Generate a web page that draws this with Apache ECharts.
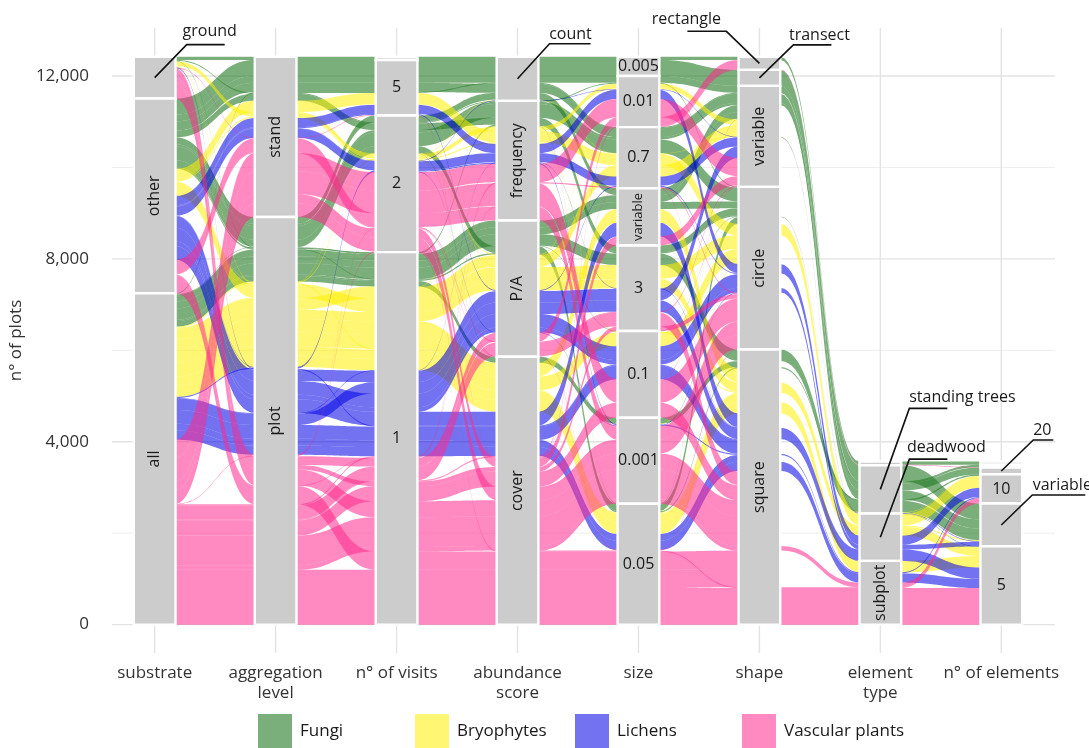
<!DOCTYPE html>
<html><head><meta charset="utf-8">
<script src="https://cdn.jsdelivr.net/npm/echarts@6/dist/echarts.min.js"></script>
<style>html,body{margin:0;padding:0;background:#fff}#c{width:1089px;height:748px}</style>
</head><body><div id="c"></div>
<script>
// ---------- data ----------
const axisNames = ['substrate','aggregation\nlevel','n° of visits','abundance\nscore','size','shape','element\ntype','n° of elements'];
const strata = [
  ['ground','other','all'],
  ['stand','plot'],
  ['10','5','2','1'],
  ['count','frequency','P/A','cover'],
  ['0.005','0.01','0.7','variable','3','0.1','0.001','0.05'],
  ['rectangle','transect','variable','circle','square'],
  ['other','standing trees','deadwood','subplot'],
  ['50','30','20','10','variable','5']
];
const taxa = ['Fungi','Bryophytes','Lichens','Vascular plants'];
const yTicks = [0, 4000, 8000, 12000];
const yMinorTicks = [2000, 6000, 10000];

// alluvia: substrate, aggregation, visits, abundance, size, shape, element type, n° of elements, n° of plots
const fungi = [
  ['other','stand','5','count','0.005','transect','standing trees','variable',350],
  ['other','stand','5','count','0.7','variable','standing trees','variable',200],
  ['all','plot','1','P/A','variable','circle',null,null,150],
  ['other','stand','5','count','0.01','variable','standing trees','20',150],
  ['other','plot','2','frequency','0.7','variable','standing trees','30',50],
  ['ground','stand','10','count','0.005','rectangle','other','50',70],
  ['other','plot','2','frequency','0.7','circle',null,null,300],
  ['all','plot','1','P/A','3','square','standing trees','variable',250],
  ['other','plot','2','count','variable','variable',null,null,150],
  ['all','plot','1','cover','0.001','square',null,null,120],
  ['other','plot','2','P/A','0.05','circle',null,null,150],
  ['other','stand','2','frequency','3','circle',null,null,150],
  ['all','plot','1','P/A','variable','variable',null,null,150],
  ['ground','stand','2','frequency','0.01','circle',null,null,20],
  ['all','plot','1','P/A','0.05','square','standing trees','10',30],
  ['other','plot','1','frequency','3','circle',null,null,25],
  ['all','stand','5','count','0.7','variable',null,null,20],
  ['other','plot','1','P/A','0.1','circle','deadwood','5',12],
  ['all','plot','2','cover','0.001','square',null,null,12],
  ['ground','plot','1','frequency','0.05','variable',null,null,12]
];
const bryophytes = [
  ['other','stand','5','frequency','0.7','circle','deadwood','10',250],
  ['all','plot','1','P/A','3','square','deadwood','5',200],
  ['all','plot','1','cover','0.05','square','subplot','5',250],
  ['other','plot','1','P/A','3','circle',null,null,300],
  ['all','plot','1','P/A','0.7','variable',null,null,250],
  ['all','plot','1','cover','variable','square',null,null,300],
  ['all','plot','1','cover','0.1','circle',null,null,300],
  ['ground','stand','2','frequency','0.01','variable',null,null,100],
  ['all','plot','1','cover','0.05','square',null,null,200],
  ['other','stand','2','P/A','0.01','variable',null,null,20],
  ['all','plot','2','frequency','0.1','square','deadwood','variable',25],
  ['ground','plot','1','cover','0.05','circle',null,null,20],
  ['other','stand','2','count','0.7','variable','standing trees','10',12],
  ['all','plot','1','frequency','0.001','circle',null,null,12],
  ['other','plot','5','P/A','3','square',null,null,12]
];
const lichens = [
  ['other','stand','5','frequency','0.01','circle','deadwood','10',200],
  ['other','plot','1','P/A','0.1','circle','deadwood','variable',100],
  ['all','plot','1','P/A','3','square','deadwood','5',250],
  ['all','plot','1','cover','0.05','square','subplot','5',200],
  ['other','stand','2','frequency','0.7','variable',null,null,200],
  ['other','plot','1','P/A','0.1','circle',null,null,300],
  ['other','plot','1','cover','variable','square',null,null,300],
  ['other','plot','1','P/A','3','variable',null,null,250],
  ['all','plot','1','cover','0.1','square',null,null,300],
  ['all','plot','1','cover','0.05','square',null,null,150],
  ['other','stand','5','P/A','0.7','circle',null,null,20],
  ['all','plot','2','frequency','0.001','square','subplot','10',25],
  ['ground','plot','1','cover','0.1','square',null,null,20],
  ['other','stand','2','count','0.01','variable','standing trees','variable',12],
  ['all','plot','1','frequency','3','square',null,null,12],
  ['other','plot','2','P/A','0.001','circle',null,null,12]
];
const vascular = [
  ['all','plot','1','cover','0.05','square','subplot','5',800],
  ['all','plot','1','cover','0.001','square','subplot','10',100],
  ['all','plot','1','cover','0.001','square',null,null,650],
  ['all','stand','2','frequency','0.01','variable',null,null,400],
  ['all','stand','2','frequency','0.1','circle',null,null,500],
  ['all','stand','2','cover','0.001','circle',null,null,300],
  ['all','plot','1','cover','0.1','square',null,null,330],
  ['all','plot','1','P/A','3','square',null,null,300],
  ['other','stand','2','frequency','0.001','circle',null,null,300],
  ['other','plot','1','cover','0.05','square',null,null,400],
  ['ground','plot','1','cover','0.001','square',null,null,350],
  ['ground','plot','1','cover','3','circle',null,null,100],
  ['all','plot','1','cover','0.05','square',null,null,400],
  ['all','stand','2','cover','variable','variable',null,null,200],
  ['ground','plot','1','P/A','0.01','rectangle',null,null,190],
  ['all','plot','1','frequency','0.7','circle',null,null,25],
  ['other','stand','2','P/A','3','variable',null,null,20],
  ['ground','plot','2','cover','0.05','square','subplot','10',20],
  ['all','plot','1','cover','0.01','rectangle',null,null,15],
  ['other','plot','1','frequency','0.1','variable',null,null,12],
  ['all','plot','2','P/A','0.05','circle',null,null,12],
  ['ground','stand','5','cover','0.7','square',null,null,12],
  ['all','plot','1','cover','0.01','rectangle','other','30',12]
];

// ---------- styling config ----------
const taxonColors = ['rgba(34,120,34,0.6)','rgba(255,240,0,0.55)','rgba(0,0,230,0.55)','rgba(255,40,140,0.55)'];
const SW = 0.345; // stratum width (x units)
const stratumLabelMode = [
  {other:'v', all:'v'},
  {stand:'v', plot:'v'},
  {'5':'h','2':'h','1':'h'},
  {frequency:'v','P/A':'v',cover:'v'},
  {'0.005':'h','0.01':'h','0.7':'h',variable:'vs','3':'h','0.1':'h','0.001':'h','0.05':'h'},
  {variable:'v',circle:'v',square:'v'},
  {subplot:'v'},
  {'10':'h','5':'h'}
];
// callouts: axis, stratum, elbow offset, end offset, text offset (pixels)
const callouts = [
  [0,'ground',[32,-33],[70,-33],[55,-46]],
  [3,'count',[32,-35],[73,-35],[53,-44]],
  [5,'rectangle',[-33,-32],[-72,-32],[-73,-44]],
  [5,'transect',[34,-33],[72,-33],[60,-42]],
  [6,'standing trees',[29,-81],[67,-81],[82,-92]],
  [6,'deadwood',[29,-78],[67,-78],[66,-90]],
  [7,'20',[32,-31],[52,-31],[41,-41]],
  [7,'variable',[31,-30],[84,-30],[61,-40]]
];
const FONT = "'Open Sans', 'DejaVu Sans', sans-serif";

// ---------- layout (lodes) ----------
const alluvia = [];
[fungi, bryophytes, lichens, vascular].forEach((arr, t) => arr.forEach(r => {
  alluvia.push({t, w: r[8], path: r.slice(0, 8).map((s, i) => {
    if (s == null) return null;
    const k = strata[i].indexOf(s);
    if (k < 0) console.error('bad stratum', i, s);
    return k;
  })});
}));
function orderKeys(i) {
  const keys = [];
  for (let d = 1; d < 8; d++) {
    if (i < 4) { if (i + d < 8) keys.push(i + d); if (i - d >= 0) keys.push(i - d); }
    else { if (i - d >= 0) keys.push(i - d); if (i + d < 8) keys.push(i + d); }
  }
  return keys;
}
const pos = alluvia.map(() => Array(8).fill(null));
const ranges = strata.map(s => s.map(() => [Infinity, -Infinity]));
for (let i = 0; i < 8; i++) {
  const members = alluvia.map((a, k) => k).filter(k => alluvia[k].path[i] != null);
  const keys = orderKeys(i);
  members.sort((a, b) => {
    const A = alluvia[a], B = alluvia[b];
    if (A.path[i] !== B.path[i]) return A.path[i] - B.path[i];
    if (A.t !== B.t) return A.t - B.t;
    for (const k of keys) {
      const va = A.path[k] == null ? -1 : A.path[k], vb = B.path[k] == null ? -1 : B.path[k];
      if (va !== vb) return va - vb;
    }
    return a - b;
  });
  let top = members.reduce((s, k) => s + alluvia[k].w, 0);
  members.forEach(k => {
    const w = alluvia[k].w, s = alluvia[k].path[i];
    pos[k][i] = [top - w, top];
    ranges[i][s][0] = Math.min(ranges[i][s][0], top - w);
    ranges[i][s][1] = Math.max(ranges[i][s][1], top);
    top -= w;
  });
}

// flows per taxon
const flowData = taxa.map(() => []);
alluvia.forEach((a, k) => {
  for (let i = 0; i < 7; i++) {
    if (pos[k][i] && pos[k][i + 1]) {
      flowData[a.t].push([i + 1 + SW / 2, pos[k][i][0], pos[k][i][1], i + 2 - SW / 2, pos[k][i + 1][0], pos[k][i + 1][1]]);
    }
  }
});
// strata data
const stratumData = [], stratumInfo = [];
strata.forEach((list, i) => list.forEach((name, s) => {
  const r = ranges[i][s];
  if (r[0] === Infinity) return;
  stratumData.push([i + 1, r[0], r[1]]);
  stratumInfo.push({name, mode: stratumLabelMode[i][name] || null});
}));
const calloutData = [], calloutInfo = [];
callouts.forEach(c => {
  const s = strata[c[0]].indexOf(c[1]);
  const r = ranges[c[0]][s];
  calloutData.push([c[0] + 1, (r[0] + r[1]) / 2]);
  calloutInfo.push(c);
});
// grid lines: [kind, value]  kind 0 = major horizontal, 1 = minor horizontal, 2 = vertical
const gridData = [
  ...yTicks.map(v => [0, v]),
  ...yMinorTicks.map(v => [1, v]),
  ...axisNames.map((n, i) => [2, i + 1])
];

// ---------- rendering ----------
const X_MIN = 0.6463, X_MAX = 8.444, Y_MIN = -620, Y_MAX = 13050;
function bez(P, Q, s) {
  const k = 0.5, dx = Q[0] - P[0], u = 1 - s;
  const x = u*u*u*P[0] + 3*u*u*s*(P[0] + k*dx) + 3*u*s*s*(Q[0] - k*dx) + s*s*s*Q[0];
  const y = u*u*u*P[1] + 3*u*u*s*P[1] + 3*u*s*s*Q[1] + s*s*s*Q[1];
  return [x, y];
}
function flowRender(color) {
  return function (params, api) {
    const x0 = api.value(0), b0 = api.value(1), t0 = api.value(2), x1 = api.value(3), b1 = api.value(4), t1 = api.value(5);
    const A = api.coord([x0, t0]), B = api.coord([x1, t1]), C = api.coord([x1, b1]), D = api.coord([x0, b0]);
    const pts = [], N = 28;
    for (let j = 0; j <= N; j++) pts.push(bez(A, B, j / N));
    for (let j = 0; j <= N; j++) pts.push(bez(C, D, j / N));
    return {type: 'polygon', shape: {points: pts}, style: {fill: color, stroke: null}};
  };
}
function gridRender(params, api) {
  const kind = api.value(0), v = api.value(1);
  let a, b;
  if (kind === 2) { a = api.coord([v, Y_MIN]); b = api.coord([v, Y_MAX]); }
  else { a = api.coord([X_MIN, v]); b = api.coord([X_MAX, v]); }
  return {type: 'line', shape: {x1: a[0], y1: a[1], x2: b[0], y2: b[1]},
    style: {stroke: kind === 1 ? '#eeeeee' : '#e3e3e3', lineWidth: kind === 1 ? 1 : 1.4}};
}
function textStyle(text, size) {
  return {text, fontSize: size, fontFamily: FONT, fill: '#1a1a1a', align: 'center', verticalAlign: 'middle'};
}
function stratumRender(params, api) {
  const x = api.value(0), y0 = api.value(1), y1 = api.value(2);
  const p0 = api.coord([x - SW / 2, y1]), p1 = api.coord([x + SW / 2, y0]);
  const info = stratumInfo[params.dataIndex];
  const children = [{type: 'rect', shape: {x: p0[0], y: p0[1], width: p1[0] - p0[0], height: p1[1] - p0[1]},
    style: {fill: '#cccccc', stroke: '#ffffff', lineWidth: 2.4}}];
  if (info.mode) {
    const cx = (p0[0] + p1[0]) / 2, cy = (p0[1] + p1[1]) / 2;
    children.push({type: 'text', x: cx, y: cy, rotation: info.mode === 'h' ? 0 : Math.PI / 2,
      style: textStyle(info.name, info.mode === 'vs' ? 13 : 16)});
  }
  return {type: 'group', children};
}
function calloutRender(params, api) {
  const c = calloutInfo[params.dataIndex];
  const p = api.coord([api.value(0), api.value(1)]);
  return {type: 'group', children: [
    {type: 'polyline', shape: {points: [[p[0], p[1]], [p[0] + c[2][0], p[1] + c[2][1]], [p[0] + c[3][0], p[1] + c[3][1]]]},
      style: {stroke: '#111', lineWidth: 1.6, fill: null}},
    {type: 'text', x: p[0] + c[4][0], y: p[1] + c[4][1], style: textStyle(c[1], 16)}
  ]};
}

const series = [];
series.push({type: 'custom', name: 'grid', data: gridData, renderItem: gridRender, silent: true, z: 1, clip: false});
taxa.forEach((t, ti) => series.push({type: 'custom', name: t, data: flowData[ti], renderItem: flowRender(taxonColors[ti]),
  itemStyle: {color: taxonColors[ti]}, silent: true, z: 2, clip: false}));
series.push({type: 'custom', name: 'strata', data: stratumData, renderItem: stratumRender, silent: true, z: 4});
series.push({type: 'custom', name: 'callouts', data: calloutData, renderItem: calloutRender, silent: true, z: 5, clip: false});

const legendLefts = [258, 415, 575, 742];
const option = {
  animation: false,
  backgroundColor: '#ffffff',
  grid: {left: 107, right: 34, top: 28, bottom: 95},
  xAxis: {type: 'value', min: X_MIN, max: X_MAX,
    axisLine: {show: false}, axisTick: {show: false}, splitLine: {show: false},
    axisLabel: {customValues: axisNames.map((n, i) => i + 1), formatter: v => axisNames[Math.round(v) - 1] || '',
      fontSize: 17, lineHeight: 20, color: '#333', fontFamily: FONT, margin: 10, verticalAlign: 'top'}},
  yAxis: {type: 'value', min: Y_MIN, max: Y_MAX,
    axisLine: {show: false}, axisTick: {show: false}, splitLine: {show: false},
    axisLabel: {customValues: yTicks, formatter: v => v.toLocaleString('en-US'), fontSize: 17, color: '#333',
      fontFamily: FONT, margin: 23},
    name: 'n° of plots', nameLocation: 'middle', nameGap: 82, nameRotate: 90,
    nameTextStyle: {fontSize: 17, color: '#333', fontFamily: FONT}},
  legend: taxa.map((t, i) => ({data: [t], left: legendLefts[i], top: 714, padding: 0, itemWidth: 34, itemHeight: 34,
    icon: 'rect', selectedMode: false, textStyle: {fontSize: 17, color: '#1a1a1a', fontFamily: FONT, padding: [0, 0, 0, 3]}})),
  series
};
const chart = echarts.init(document.getElementById('c'), null, {renderer: 'canvas'});
chart.setOption(option);
</script>
</body></html>
